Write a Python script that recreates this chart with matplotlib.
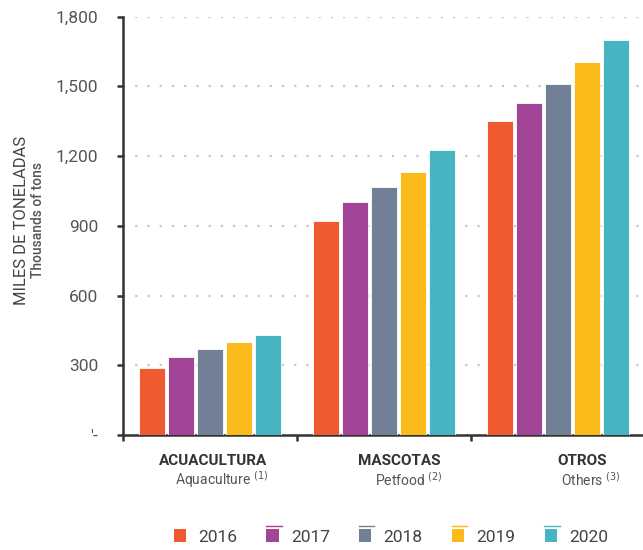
import matplotlib.pyplot as plt
from matplotlib.legend_handler import HandlerBase
from matplotlib.patches import Patch, Rectangle
from matplotlib.lines import Line2D
import numpy as np

# Data (thousands of tons)
categories = ["ACUACULTURA", "MASCOTAS", "OTROS"]
subtitles = ["Aquaculture $^{(1)}$", "Petfood $^{(2)}$", "Others $^{(3)}$"]
years = ["2016", "2017", "2018", "2019", "2020"]
values = {
    "2016": [290, 922, 1350],
    "2017": [337, 1004, 1430],
    "2018": [369, 1068, 1509],
    "2019": [402, 1130, 1605],
    "2020": [432, 1225, 1700],
}
yticks = [0, 300, 600, 900, 1200, 1500, 1800]
ytick_labels = ["'-", "300", "600", "900", "1,200", "1,500", "1,800"]

colors = ["#F05A30", "#A34596", "#718096", "#FBBB1B", "#47B5C1"]

plt.rcParams["font.family"] = ["Roboto", "DejaVu Sans"]


class SquareTopLine(HandlerBase):
    """Legend square with a thin line above it (as in the source artwork)."""

    def __init__(self, with_line=True):
        super().__init__()
        self.with_line = with_line

    def create_artists(self, legend, orig_handle, xdescent, ydescent, width,
                       height, fontsize, trans):
        color = orig_handle.get_facecolor()
        sq = Rectangle((-xdescent, -ydescent), width, height, facecolor=color,
                       edgecolor="none", transform=trans)
        artists = [sq]
        if self.with_line:
            y = -ydescent + height * 1.3
            ln = Line2D([-xdescent - width * 0.05, -xdescent + width * 1.25], [y, y],
                        color=color, linewidth=1.0, transform=trans)
            artists.append(ln)
        return artists


fig = plt.figure(figsize=(6.43, 5.5), dpi=100)
ax = fig.add_axes([123 / 643, 115 / 550, 522 / 643, 418.5 / 550])

x = np.arange(len(categories))
step = 0.1667
bar_w = 0.145
for i, year in enumerate(years):
    ax.bar(x + (i - 2) * step, values[year], width=bar_w, color=colors[i],
           edgecolor="white", linewidth=0.6, zorder=3, label=year)

ax.set_xlim(-0.5, 2.5)
ax.set_ylim(0, 1800)
ax.set_yticks(yticks)
ax.set_yticklabels(ytick_labels)
ax.set_xticks([-0.5, 0.5, 1.5, 2.5])
ax.set_xticklabels([])

ax.grid(axis="y", linestyle=(0, (1, 4.5)), color="#c8c8c8", linewidth=1.6, zorder=0)
ax.set_axisbelow(True)

for side in ["top", "right"]:
    ax.spines[side].set_visible(False)
for side in ["left", "bottom"]:
    ax.spines[side].set_color("#333333")
    ax.spines[side].set_linewidth(1.8)

ax.tick_params(axis="y", length=4, width=1.8, color="#333333", pad=14,
               labelsize=12.5, labelcolor="#555555")
ax.tick_params(axis="x", length=4, width=1.8, color="#333333")

# category labels
label_off = [0.02, 0.09, 0.14]
sub_off = [0.065, 0.145, 0.19]
for i, cat in enumerate(categories):
    ax.text(i + label_off[i], -0.062, cat, transform=ax.get_xaxis_transform(),
            ha="center", va="center", fontsize=11, fontweight="bold", color="#333333")
    ax.text(i + sub_off[i], -0.107, subtitles[i], transform=ax.get_xaxis_transform(),
            ha="center", va="center", fontsize=10, color="#555555")

# y axis titles
fig.text(22 / 643, 0.6, "MILES DE TONELADAS", rotation=90, ha="center", va="center",
         fontsize=12, color="#444444")
fig.text(38 / 643, 0.6, "Thousands of tons", rotation=90, ha="center", va="center",
         fontsize=10, fontweight="medium", color="#555555")

handles = [Patch(facecolor=c, edgecolor="none") for c in colors]
handler_map = {h: SquareTopLine(with_line=(i > 0)) for i, h in enumerate(handles)}
fig.legend(handles, years, loc="center", bbox_to_anchor=(391 / 643, 13 / 550), ncol=5,
           frameon=False, fontsize=12.5, handlelength=0.7, handleheight=0.7,
           handletextpad=0.7, columnspacing=1.7, labelcolor="#444444",
           handler_map=handler_map)

fig.savefig("out.png", dpi=100)
